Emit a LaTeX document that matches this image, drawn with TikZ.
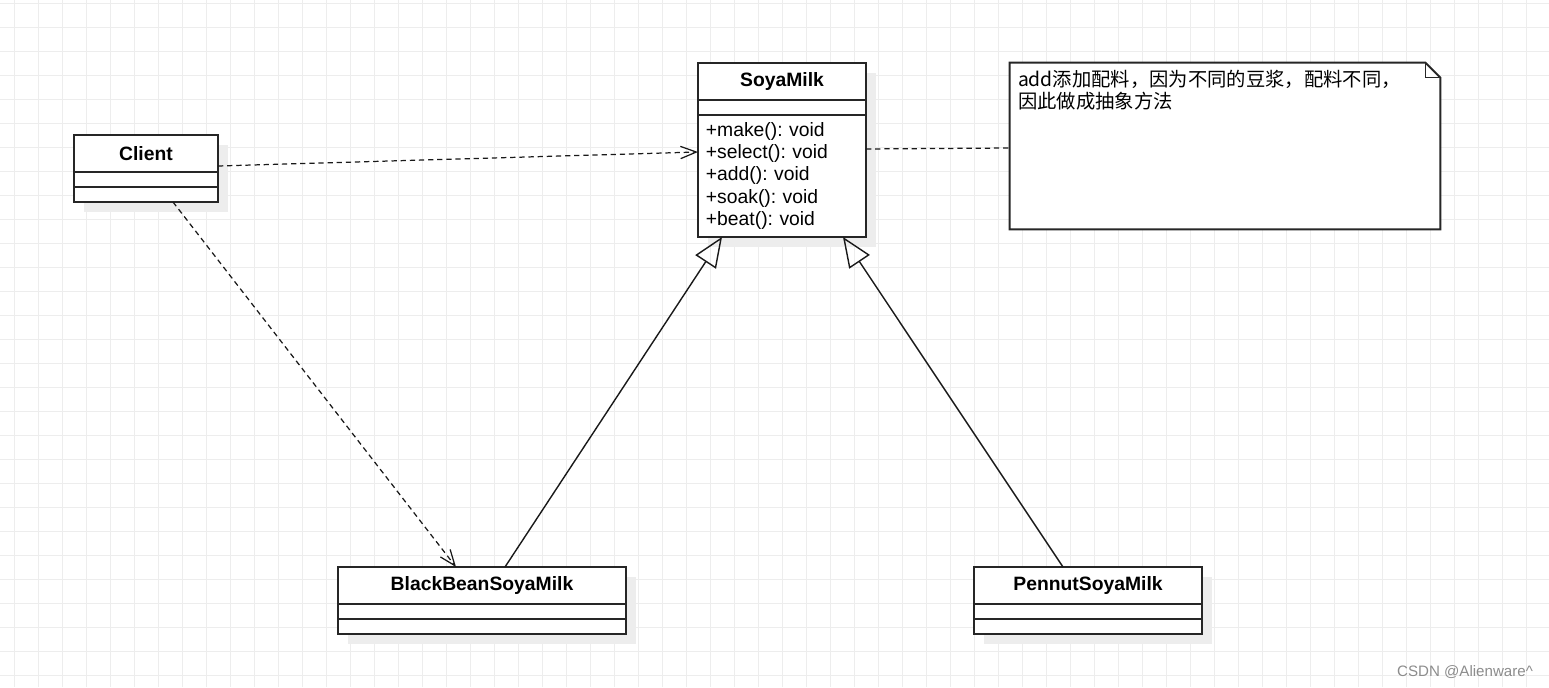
\documentclass[tikz,border=0pt]{standalone}
\usepackage{fontspec}
\setmainfont{Liberation Sans}
\newfontfamily\cjk{Noto Sans CJK SC}
\usetikzlibrary{arrows.meta,positioning,backgrounds}
\frenchspacing

\tikzset{
  gridline/.style={draw=black!7,line width=0.5pt},
  classhead/.style={draw=black!85,line width=1.1pt,fill=white,inner sep=0pt,outer sep=0pt,
    minimum height=0.74cm,font=\fontsize{11}{12.75}\selectfont\bfseries},
  classpart/.style={draw=black!85,line width=1.1pt,fill=white,inner sep=0pt,outer sep=0pt,
    minimum height=0.3cm},
  shade/.style={fill=black!7},
  dep/.style={line width=0.7pt,draw=black!90,dash pattern=on 3pt off 2.2pt,
    -{Straight Barb[length=9pt,width=7pt]}},
  inherit/.style={line width=0.8pt,draw=black!90,
    -{Triangle[open,length=17pt,width=14pt]}},
  notelink/.style={line width=0.7pt,draw=black!90,dash pattern=on 3pt off 2.2pt},
}

\begin{document}
\begin{tikzpicture}[x=0.02cm,y=-0.02cm]
  \useasboundingbox (0,0) rectangle (1549,687);
  \begin{scope}[on background layer]
    \foreach \x in {14,38,...,1549}
      \draw[gridline] (\x,0) -- (\x,687);
    \foreach \y in {3,27,...,687}
      \draw[gridline] (0,\y) -- (1549,\y);
  \end{scope}

  % classes
  \node[classhead,minimum width=3.36cm] (soya) at (782,81.5) {SoyaMilk};
  \node[classpart,minimum width=3.36cm,below=0pt of soya] (soyaattr) {};
  \node[classpart,minimum width=3.36cm,minimum height=2.44cm,below=0pt of soyaattr,
    text width=3.36cm-9pt,inner xsep=4.5pt,align=left,
    font=\fontsize{11}{12.75}\selectfont] (soyaops)
    {+make(): void\\+select(): void\\+add(): void\\+soak(): void\\+beat(): void};

  \node[classhead,minimum width=2.88cm] (client) at (146,153.5) {Client};
  \node[classpart,minimum width=2.88cm,below=0pt of client] (clientattr) {};
  \node[classpart,minimum width=2.88cm,below=0pt of clientattr] (clientops) {};

  \node[classhead,minimum width=5.76cm] (black) at (482,585.5) {BlackBeanSoyaMilk};
  \node[classpart,minimum width=5.76cm,below=0pt of black] (blackattr) {};
  \node[classpart,minimum width=5.76cm,below=0pt of blackattr] (blackops) {};

  \node[classhead,minimum width=4.56cm] (pennut) at (1088,585.5) {PennutSoyaMilk};
  \node[classpart,minimum width=4.56cm,below=0pt of pennut] (pennutattr) {};
  \node[classpart,minimum width=4.56cm,below=0pt of pennutattr] (pennutops) {};

  \begin{scope}[on background layer]
    \foreach \c/\o in {soya/soyaops,client/clientops,black/blackops,pennut/pennutops}
      \fill[shade] ([shift={(0.2cm,-0.2cm)}]\c.north west) rectangle ([shift={(0.2cm,-0.2cm)}]\o.south east);
  \end{scope}

  % note
  \node[minimum width=8.6cm,minimum height=3.32cm,inner sep=0pt] (note) at (1225,146) {};
  \draw[line width=1.1pt,draw=black!85,fill=white,line join=miter]
    (note.north west) -- ([xshift=-0.3cm]note.north east)
    -- ([yshift=-0.3cm]note.north east) -- (note.south east)
    -- (note.south west) -- cycle;
  \draw[line width=0.8pt,draw=black!85]
    ([xshift=-0.3cm]note.north east) -- ([xshift=-0.3cm,yshift=-0.3cm]note.north east)
    -- ([yshift=-0.3cm]note.north east);
  \node[anchor=north west,inner sep=0pt,align=left,
    font=\cjk\fontsize{11}{12.5}\selectfont] (notetext)
    at ([xshift=0.16cm,yshift=-0.14cm]note.north west)
    {add添加配料，因为不同的豆浆，配料不同，\\因此做成抽象方法};

  % connectors
  \draw[dep] ([yshift=-0.25cm]client.east) -- ([yshift=-0.74cm]soyaops.north west);
  \draw[dep] ([xshift=0.54cm]clientops.south) -- ([xshift=-0.52cm]black.north);
  \draw[inherit] ([xshift=0.46cm]black.north) -- ([xshift=-1.2cm]soyaops.south);
  \draw[inherit] ([xshift=-0.5cm]pennut.north) -- ([xshift=1.22cm]soyaops.south);
  \draw[notelink] ([yshift=-0.68cm]soyaops.north east) -- ([yshift=-0.04cm]note.west);

  \node[text=black!45,font=\fontsize{8.6}{10}\selectfont] (mark) at (1465,672)
    {CSDN @Alienware\textasciicircum};
\end{tikzpicture}
\end{document}
